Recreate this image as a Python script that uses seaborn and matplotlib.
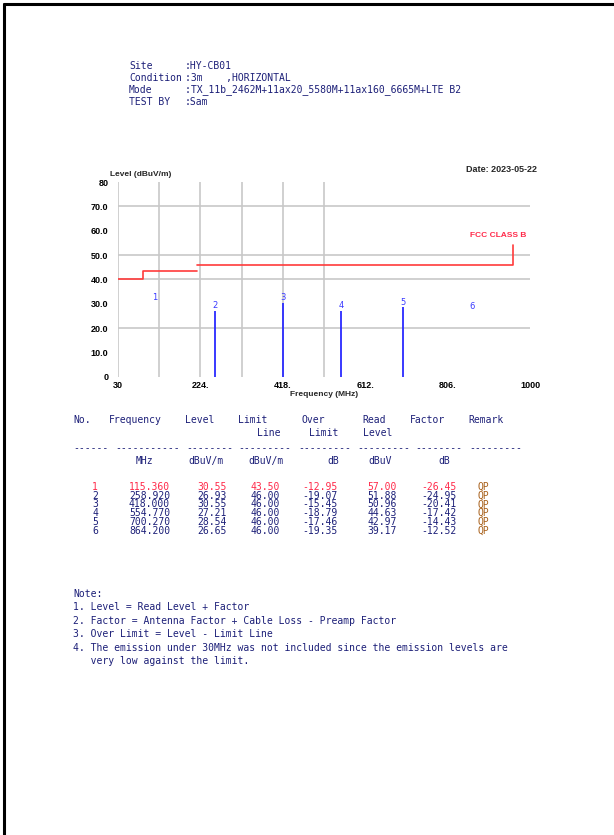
import matplotlib
matplotlib.use("Agg")
import matplotlib.pyplot as plt
import seaborn as sns
import pandas as pd
from matplotlib.lines import Line2D

# data
peak_no = [1, 2, 3, 4, 5, 6]
freq = [115.360, 258.920, 418.000, 554.770, 700.270, 864.200]
level = [30.55, 26.93, 30.55, 27.21, 28.54, 26.65]
limit = [43.50, 46.00, 46.00, 46.00, 46.00, 46.00]
over = [-12.95, -19.07, -15.45, -18.79, -17.46, -19.35]
read = [57.00, 51.88, 50.96, 44.63, 42.97, 39.17]
factor = [-26.45, -24.95, -20.41, -17.42, -14.43, -12.52]
remark = ["QP"] * 6
show_line = [False, True, True, True, True, False]

limit_seg1_f = [30, 88, 88, 216]
limit_seg1_l = [40, 40, 43.5, 43.5]
limit_seg2_f = [216, 960, 960]
limit_seg2_l = [46, 46, 54]

xticks = [30, 224, 418, 612, 806, 1000]
xtick_labels = ["30", "224.", "418.", "612.", "806.", "1000"]
yticks = [0, 10, 20, 30, 40, 50, 60, 70, 80]
ytick_labels = ["0", "10.0", "20.0", "30.0", "40.0", "50.0", "60.0", "70.0", "80"]
vgrid = [30, 127, 224, 321, 418, 515]
hgrid = [20, 40, 50, 70]

header_labels = ["Site", "Condition", "Mode", "TEST BY"]
header_values = [":HY-CB01", ":3m    ,HORIZONTAL",
                 ":TX_11b_2462M+11ax20_5580M+11ax160_6665M+LTE B2", ":Sam"]
notes = ["Note:",
         "1. Level = Read Level + Factor",
         "2. Factor = Antenna Factor + Cable Loss - Preamp Factor",
         "3. Over Limit = Level - Limit Line",
         "4. The emission under 30MHz was not included since the emission levels are",
         "   very low against the limit."]

W, H = 614, 835
NAVY = "#1c1f78"
RED = "#ff2a4a"
MONO = "DejaVu Sans Mono"

sns.set_theme(style="white")
plt.rcParams["font.family"] = ["Liberation Sans", "DejaVu Sans"]

fig = plt.figure(figsize=(W / 100, H / 100), dpi=100)
fig.patch.set_facecolor("white")


def px(x, y):
    return x / W, 1 - y / H


def ftext(x, y, s, **kw):
    fig.text(*px(x, y), s, **kw)


# page border (left + top)
fig.add_artist(Line2D([4 / W, 4 / W], [0, 1 - 4 / H], color="black", lw=2.2))
fig.add_artist(Line2D([4 / W, 1], [1 - 4 / H, 1 - 4 / H], color="black", lw=2.2))

# header block
for i, (lab, val) in enumerate(zip(header_labels, header_values)):
    y = 66 + i * 12
    ftext(129, y, lab, family=MONO, fontsize=7, color=NAVY, va="center")
    ftext(185, y, val, family=MONO, fontsize=7, color=NAVY, va="center")

# chart
ax = fig.add_axes([118 / W, 1 - 377 / H, 412 / W, 195 / H])
ax.set_xlim(30, 1000)
ax.set_ylim(0, 80)
for s in ax.spines.values():
    s.set_visible(False)

ax.vlines(vgrid, 0, 80, color="#c8c8c8", lw=1.2, zorder=1)
ax.hlines(hgrid, 30, 1000, color="#c8c8c8", lw=1.2, zorder=1)

lim1 = pd.DataFrame({"f": limit_seg1_f, "l": limit_seg1_l})
lim2 = pd.DataFrame({"f": limit_seg2_f, "l": limit_seg2_l})
sns.lineplot(data=lim1, x="f", y="l", estimator=None, sort=False, color="#ff3b3b", lw=1.2, ax=ax, zorder=3)
sns.lineplot(data=lim2, x="f", y="l", estimator=None, sort=False, color="#ff3b3b", lw=1.2, ax=ax, zorder=3)

for n, f, lv, sl in zip(peak_no, freq, level, show_line):
    if sl:
        ax.vlines(f, 0, lv, color="#2a2aff", lw=1.3, zorder=4)
    ax.text(f, lv + 2.2, str(n), color="#3a3aff", fontsize=6, ha="center", va="center",
            family="DejaVu Sans")

ax.text(925, 58.2, "FCC CLASS B", color=RED, fontsize=6, fontweight="bold", ha="center", va="center")

ax.set_xticks(xticks)
ax.set_xticklabels(xtick_labels)
ax.set_yticks(yticks)
ax.set_yticklabels(ytick_labels)
ax.tick_params(axis="both", length=0, labelsize=6.5, labelcolor="black")
ax.tick_params(axis="y", pad=7)
ax.tick_params(axis="x", pad=3)
for t in ax.get_xticklabels() + ax.get_yticklabels():
    t.set_fontweight("bold")
ax.set_xlabel("")
ax.set_ylabel("")

ftext(324, 394, "Frequency (MHz)", fontsize=6, fontweight="bold", ha="center", va="center")
ftext(110, 175, "Level (dBuV/m)", fontsize=6, fontweight="bold", ha="left", va="center")
ftext(466, 170, "Date: 2023-05-22", fontsize=6.5, fontweight="bold", ha="left", va="center")

# table header
tkw = dict(family=MONO, fontsize=7, va="center")
hdr1 = [(73, "No."), (109, "Frequency"), (185, "Level"), (238, "Limit"),
        (302, "Over"), (362, "Read"), (410, "Factor"), (468, "Remark")]
hdr2 = [(257, "Line"), (309, "Limit"), (363, "Level")]
for x, s in hdr1:
    ftext(x, 420, s, color=NAVY, **tkw)
for x, s in hdr2:
    ftext(x, 433, s, color=NAVY, **tkw)

dash_groups = [(73, 6), (115, 11), (186, 8), (238, 9), (298, 9), (357, 9), (415, 8), (469, 9)]
for x, n in dash_groups:
    ftext(x, 448, "-" * n, color=NAVY, **tkw)

units = [(136, "MHz"), (188, "dBuV/m"), (248, "dBuV/m"), (327, "dB"), (368, "dBuV"), (438, "dB")]
for x, s in units:
    ftext(x, 461, s, color=NAVY, **tkw)

# table rows
col_right = [170, 227, 280, 338, 397, 457]
for i in range(len(freq)):
    y = 487 + i * 8.7
    c = RED if i == 0 else NAVY
    ftext(95, y, str(peak_no[i]), color=c, ha="center", **tkw)
    vals = [f"{freq[i]:.3f}", f"{level[i]:.2f}", f"{limit[i]:.2f}",
            f"{over[i]:.2f}", f"{read[i]:.2f}", f"{factor[i]:.2f}"]
    for x, v in zip(col_right, vals):
        ftext(x, y, v, color=c, ha="right", **tkw)
    ftext(478, y, remark[i], color="#a8601a", ha="left", **tkw)

# notes
for i, s in enumerate(notes):
    ftext(73, 594 + i * 13.4, s, color=NAVY, ha="left", **tkw)

fig.savefig("out.png", dpi=100, facecolor="white")
